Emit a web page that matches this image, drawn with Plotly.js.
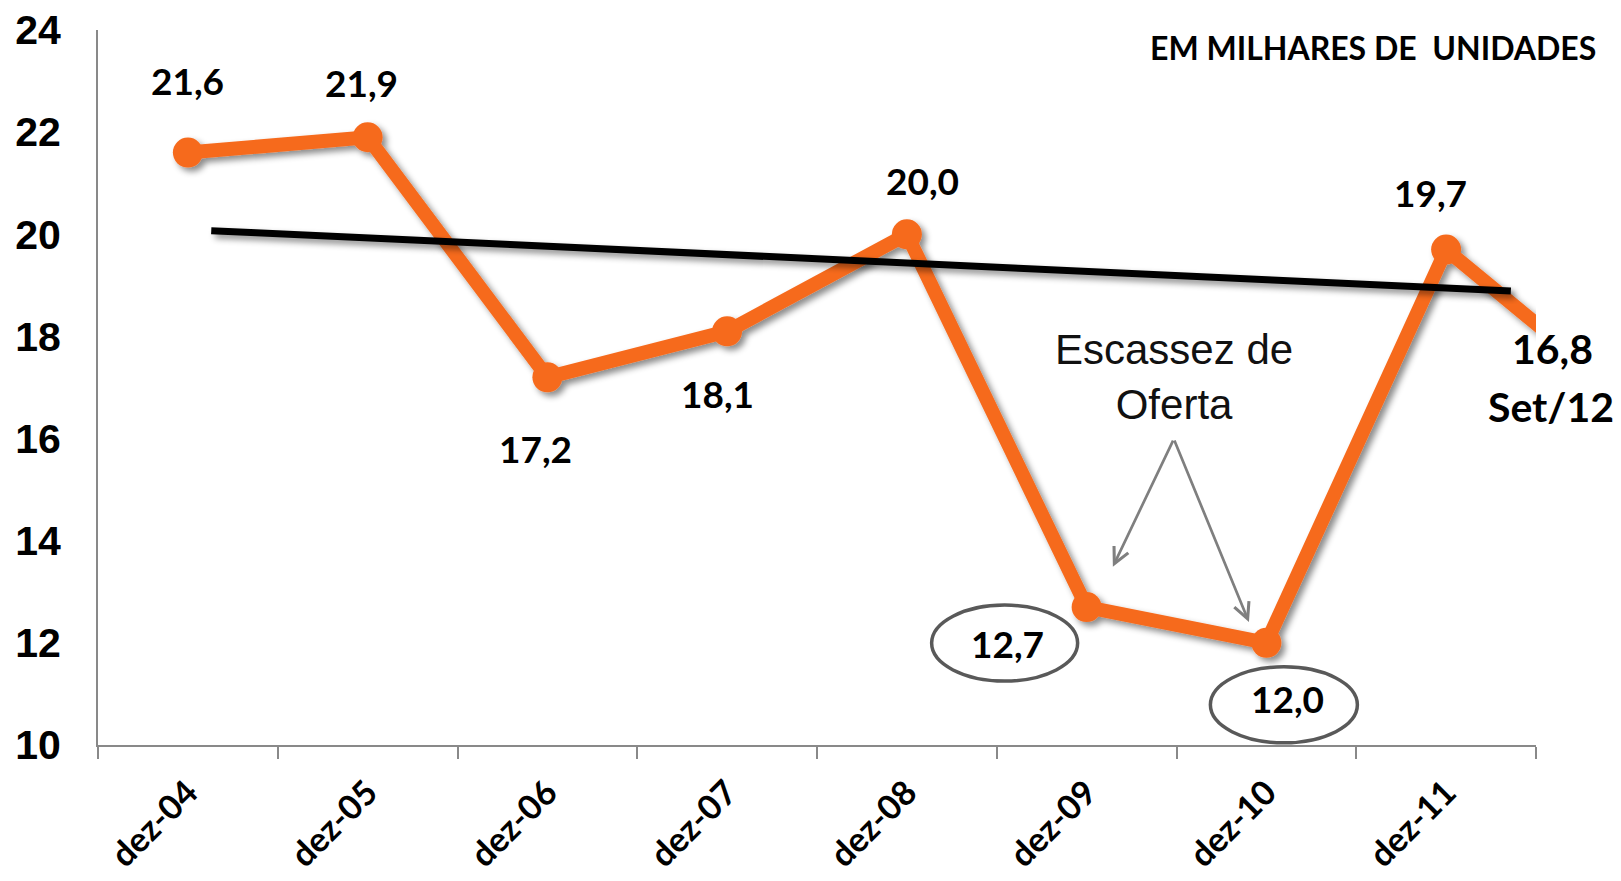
<!DOCTYPE html>
<html>
<head>
<meta charset="utf-8">
<script src="https://cdn.plot.ly/plotly-3.0.1.min.js"></script>
<style>
  html, body { margin: 0; padding: 0; background: #ffffff; }
  #chart { width: 1621px; height: 881px; }
</style>
</head>
<body>
<div id="chart"></div>
<script>
// Estoque de imóveis (em milhares de unidades)
const categories = ['dez-04', 'dez-05', 'dez-06', 'dez-07', 'dez-08', 'dez-09', 'dez-10', 'dez-11', 'Set/12'];
const stock = [21.6, 21.9, 17.2, 18.1, 20.0, 12.7, 12.0, 19.7, 16.8];

// Linha de tendência (posição em índice de categoria, valor)
const trendX = [0.13, 7.36];
const trendY = [20.07, 18.89];

const yTicks = [10, 12, 14, 16, 18, 20, 22, 24];

// ---- layout helpers ----
const ORANGE = '#F66B1E';
const AXIS_GREY = '#898989';
const xRange = [-0.5, 7.5];
const yRange = [10, 24];
const shown = categories.length - 1;                 // categories drawn on the axis
const idx = categories.map((c, i) => i);
const centers = idx.slice(0, shown);
const bounds = [];
for (let i = 0; i <= shown; i++) bounds.push(i - 0.5);

const fmt = v => v.toFixed(1).replace('.', ',');

// label offsets in pixels (x right, y up) for each point on the axis
const labelShift = [[0, 72], [-6, 55], [-12, -71], [-10, -62], [16, 54], [-79, -36], [21, -56], [-16, 57]];

const labelFont = { family: 'Lato, "Open Sans", sans-serif', size: 37, color: '#000000', weight: 700 };
const bigFont = { family: 'Lato, "Open Sans", sans-serif', size: 41, color: '#000000', weight: 700 };

const annotations = [];
centers.forEach(i => {
  annotations.push({
    x: i, y: stock[i], xref: 'x', yref: 'y',
    text: '<b>' + fmt(stock[i]) + '</b>',
    showarrow: false, xanchor: 'center', yanchor: 'middle',
    xshift: labelShift[i][0], yshift: labelShift[i][1],
    font: labelFont
  });
});

// last point lies past the axis end: place its labels in paper units
const last = categories.length - 1;
const lastFx = (idx[last] - xRange[0]) / (xRange[1] - xRange[0]);
const lastFy = (stock[last] - yRange[0]) / (yRange[1] - yRange[0]);
annotations.push({
  x: lastFx, y: lastFy, xref: 'paper', yref: 'paper',
  text: '<b>' + fmt(stock[last]) + '</b>', showarrow: false,
  xanchor: 'center', yanchor: 'middle', xshift: -73, yshift: 49, font: bigFont
});
annotations.push({
  x: lastFx, y: lastFy, xref: 'paper', yref: 'paper',
  text: '<b>' + categories[last] + '</b>', showarrow: false,
  xanchor: 'center', yanchor: 'middle', xshift: -75, yshift: -9, font: bigFont
});

// unit note
annotations.push({
  x: 1.0431, y: 0.9755, xref: 'paper', yref: 'paper',
  text: '<b>EM MILHARES DE\u00A0 UNIDADES</b>', showarrow: false,
  xanchor: 'right', yanchor: 'middle',
  font: { family: 'Lato, "Open Sans", sans-serif', size: 32, color: '#000000', weight: 700 }
});

// "Escassez de Oferta" note with its two arrows
annotations.push({
  x: 5.485, y: 17.21, xref: 'x', yref: 'y',
  text: 'Escassez de<br>Oferta', showarrow: false,
  xanchor: 'center', yanchor: 'middle',
  font: { family: '"Liberation Sans", Arial, sans-serif', size: 42, color: '#111111' }
});
[[5.146, 13.49], [5.903, 12.41]].forEach(h => {
  annotations.push({
    x: h[0], y: h[1], xref: 'x', yref: 'y',
    ax: 5.485, ay: 15.99, axref: 'x', ayref: 'y',
    text: '', showarrow: true, arrowhead: 5, arrowsize: 1.15, arrowwidth: 2.7,
    arrowcolor: '#7F7F7F', standoff: 0
  });
});

// ellipses round the two lowest values, anchored at their points
const ellipse = (i, x0, x1, y0, y1) => ({
  type: 'circle', xref: 'x', yref: 'y',
  xsizemode: 'pixel', ysizemode: 'pixel',
  xanchor: i, yanchor: stock[i],
  x0: x0, x1: x1, y0: y0, y1: y1,
  line: { color: '#595959', width: 3.5 }, fillcolor: 'rgba(0,0,0,0)'
});
const shapes = [
  ellipse(5, -155, -9, -74, 2),
  ellipse(6, -56, 91, -100, -24)
];

const traces = [
  {
    x: idx, y: stock, type: 'scatter', mode: 'lines+markers',
    line: { color: ORANGE, width: 14 },
    marker: { color: ORANGE, size: 30 },
    hoverinfo: 'skip', showlegend: false
  },
  {
    x: trendX, y: trendY, type: 'scatter', mode: 'lines',
    line: { color: '#000000', width: 7 },
    hoverinfo: 'skip', showlegend: false
  }
];

const layout = {
  width: 1621, height: 881,
  margin: { l: 98, r: 85, t: 30, b: 136 },
  paper_bgcolor: '#ffffff', plot_bgcolor: '#ffffff',
  showlegend: false,
  xaxis: {
    type: 'linear', range: xRange, fixedrange: true,
    tickmode: 'array', tickvals: centers, ticktext: categories.slice(0, shown).map(c => '<b>' + c + '</b>'),
    ticks: '', tickangle: -45, ticklabelstandoff: 12,
    tickfont: { family: 'Lato, "Open Sans", sans-serif', size: 34, color: '#000000', weight: 700 },
    minor: { tickmode: 'array', tickvals: bounds, ticks: 'outside', ticklen: 12, tickwidth: 2, tickcolor: AXIS_GREY, showgrid: false },
    showline: true, linecolor: AXIS_GREY, linewidth: 2,
    showgrid: false, zeroline: false
  },
  xaxis2: {
    type: 'linear', range: xRange, overlaying: 'x', anchor: 'y', side: 'bottom', fixedrange: true,
    tickmode: 'array', tickvals: bounds, ticks: 'inside', ticklen: 13, tickwidth: 2, tickcolor: AXIS_GREY,
    showticklabels: false, showline: false, showgrid: false, zeroline: false
  },
  yaxis: {
    range: yRange, fixedrange: true,
    tickmode: 'array', tickvals: yTicks, ticktext: yTicks.map(v => '<b>' + v + '</b>'),
    ticks: '', ticklabelstandoff: 27,
    tickfont: { family: '"Liberation Sans", Arial, sans-serif', size: 41, color: '#000000', weight: 700 },
    showline: true, linecolor: AXIS_GREY, linewidth: 2,
    showgrid: false, zeroline: false
  },
  annotations: annotations,
  shapes: shapes
};

Plotly.newPlot('chart', traces, layout, { displayModeBar: false, staticPlot: true }).then(gd => {
  // soft drop shadow under the plotted lines
  const svg = gd.querySelector('.main-svg');
  const NS = 'http://www.w3.org/2000/svg';
  let defs = svg.querySelector('defs');
  if (!defs) { defs = document.createElementNS(NS, 'defs'); svg.insertBefore(defs, svg.firstChild); }
  const filter = document.createElementNS(NS, 'filter');
  filter.setAttribute('id', 'lineShadow');
  filter.setAttribute('x', '-10%'); filter.setAttribute('y', '-10%');
  filter.setAttribute('width', '130%'); filter.setAttribute('height', '130%');
  const ds = document.createElementNS(NS, 'feDropShadow');
  ds.setAttribute('dx', '4'); ds.setAttribute('dy', '4'); ds.setAttribute('stdDeviation', '3');
  ds.setAttribute('flood-color', '#000000'); ds.setAttribute('flood-opacity', '0.45');
  filter.appendChild(ds);
  defs.appendChild(filter);
  gd.querySelectorAll('.scatterlayer .trace').forEach(g => g.setAttribute('filter', 'url(#lineShadow)'));
});
</script>
</body>
</html>
